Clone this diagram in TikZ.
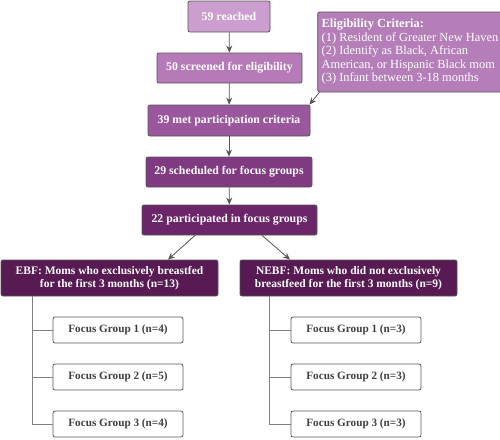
\documentclass[tikz,border=0pt]{standalone}
\usepackage{fontspec}
\setmainfont{Liberation Serif}
\usepackage{tikz}
\usepackage{xcolor}
\usetikzlibrary{arrows.meta}
\definecolor{step1}{HTML}{CC9ECF}
\definecolor{step2}{HTML}{B77AB8}
\definecolor{step3}{HTML}{9B579E}
\definecolor{step4}{HTML}{7F3A82}
\definecolor{step5}{HTML}{6B2569}
\definecolor{step6}{HTML}{571A52}
\definecolor{critfill}{HTML}{B57EB9}
\definecolor{edge}{HTML}{555555}
\tikzset{
    flow-box/.style = {draw=edge, thick, rectangle, rounded corners=2pt, text=white, font=\bfseries\fontsize{11.8}{12.5}\selectfont, align=center, inner sep=2pt},
    crit-box/.style = {flow-box, fill=critfill, align=left, font=\fontsize{12.4}{13.5}\selectfont, inner sep=4pt},
    group-box/.style = {draw=edge, thick, fill=white, rectangle, rounded corners=2pt, text=black!75, font=\bfseries\fontsize{11.2}{12}\selectfont, minimum width=130pt, minimum height=26pt},
    flow-arrow/.style = {draw=edge, thick, -{Stealth[length=7pt,width=6pt]}},
    tree-line/.style = {draw=black!50, thick},
}

\begin{document}
\begin{tikzpicture}[x=1pt, y=-1pt]
\useasboundingbox (0,0) rectangle (500,439);
\node [flow-box, fill=step1, minimum width=82pt, minimum height=31pt] (reached) at (229,16.5) {59 reached};
\node [flow-box, fill=step2, minimum width=145pt, minimum height=30pt] (screened) at (229.5,68) {50 screened for eligibility};
\node [flow-box, fill=step3, minimum width=162pt, minimum height=31pt] (met) at (229,120.5) {39 met participation criteria};
\node [flow-box, fill=step4, minimum width=166pt, minimum height=30pt] (sched) at (229,172) {29 scheduled for focus groups};
\node [flow-box, fill=step5, minimum width=175pt, minimum height=30pt] (part) at (229.5,220) {22 participated in focus groups};
\node [crit-box, minimum width=176pt, minimum height=80pt] (crit) at (410,52) {\textbf{Eligibility Criteria:}\\
(1) Resident of Greater New Haven\\
(2) Identify as Black, African\\
American, or Hispanic Black mom\\
(3) Infant between 3-18 months};

\node [flow-box, fill=step6, minimum width=217pt, minimum height=36pt, font=\bfseries\fontsize{11.5}{13}\selectfont] (ebf) at (109.5,278) {EBF: Moms who exclusively breastfed\\for the first 3 months (n=13)};
\node [flow-box, fill=step6, minimum width=217pt, minimum height=36pt, font=\bfseries\fontsize{11.5}{13}\selectfont] (nebf) at (348.5,278) {NEBF: Moms who did not exclusively\\breastfeed for the first 3 months (n=9)};

% focus groups
\node [group-box] (ebf-fg1) at (118,330) {Focus Group 1 (n=4)};
\node [group-box] (ebf-fg2) at (118,377) {Focus Group 2 (n=5)};
\node [group-box] (ebf-fg3) at (118,424) {Focus Group 3 (n=4)};
\node [group-box] (nebf-fg1) at (356,330) {Focus Group 1 (n=3)};
\node [group-box] (nebf-fg2) at (356,377) {Focus Group 2 (n=3)};
\node [group-box] (nebf-fg3) at (356,424) {Focus Group 3 (n=3)};

\draw [flow-arrow] (reached) -- (screened);
\draw [flow-arrow] (screened) -- (met);
\draw [flow-arrow] (met) -- (sched);
\draw [flow-arrow] (sched) -- (part);
\draw [flow-arrow] ([xshift=2pt]crit.south west) -- ([xshift=-1pt]met.north east);
\draw [flow-arrow] ([xshift=-34.5pt]part.south) -- ([xshift=58.5pt]ebf.north);
\draw [flow-arrow] ([xshift=32.5pt]part.south) -- ([xshift=-58.5pt]nebf.north);

\draw [tree-line] ([xshift=32pt]ebf.south west) |- (ebf-fg3.west);
\draw [tree-line] ([xshift=32pt]ebf.south west) |- (ebf-fg1.west);
\draw [tree-line] ([xshift=32pt]ebf.south west) |- (ebf-fg2.west);
\draw [tree-line] ([xshift=30pt]nebf.south west) |- (nebf-fg3.west);
\draw [tree-line] ([xshift=30pt]nebf.south west) |- (nebf-fg1.west);
\draw [tree-line] ([xshift=30pt]nebf.south west) |- (nebf-fg2.west);
\end{tikzpicture}
\end{document}
